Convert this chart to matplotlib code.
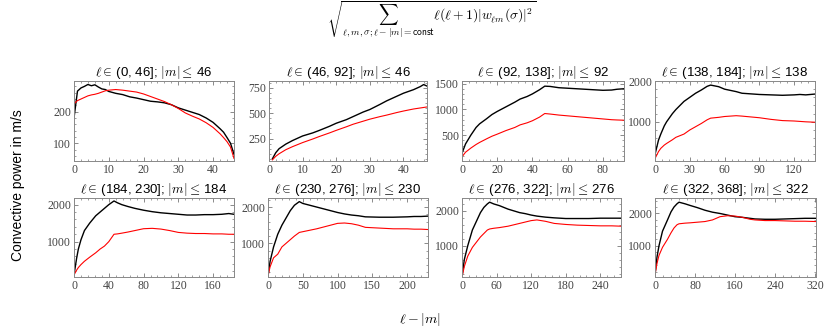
import matplotlib
matplotlib.use("Agg")
import matplotlib.pyplot as plt
from matplotlib.ticker import AutoMinorLocator

plt.rcParams['font.family'] = ['Liberation Sans', 'DejaVu Sans']
plt.rcParams['mathtext.fontset'] = 'cm'

# ---------------- DATA ---------------- #

titles = [r"$\ell \in\,$(0, 46]; $|m| \leq\,$46",
          r"$\ell \in\,$(46, 92]; $|m| \leq\,$46",
          r"$\ell \in\,$(92, 138]; $|m| \leq\,$92",
          r"$\ell \in\,$(138, 184]; $|m| \leq\,$138",
          r"$\ell \in\,$(184, 230]; $|m| \leq\,$184",
          r"$\ell \in\,$(230, 276]; $|m| \leq\,$230",
          r"$\ell \in\,$(276, 322]; $|m| \leq\,$276",
          r"$\ell \in\,$(322, 368]; $|m| \leq\,$322"]

# panel 1
x1 = [0, 1, 2, 3, 4, 5, 6, 7, 8, 9, 10, 12, 14, 16, 18, 20, 22, 24, 26, 28, 30,
      32, 34, 36, 38, 40, 42, 43, 44, 45, 46]
b1 = [180, 265, 275, 280, 286, 282, 285, 278, 272, 270, 264, 258, 254, 247, 243,
      238, 233, 231, 228, 222, 212, 205, 198, 191, 180, 166, 146, 135, 118, 100, 65]
r1 = [225, 235, 240, 245, 250, 253, 255, 258, 262, 266, 268, 270, 268, 265, 262,
      256, 248, 240, 232, 222, 210, 196, 186, 177, 165, 150, 130, 118, 105, 88, 52]

# panel 2
x2 = [1, 2, 3, 5, 7, 10, 13, 15, 18, 20, 23, 25, 28, 30, 33, 35, 38, 40, 43, 45, 46, 47]
b2 = [50, 110, 150, 195, 230, 275, 305, 330, 370, 400, 435, 465, 510, 535, 585, 620,
      665, 695, 730, 760, 780, 765]
r2 = [40, 75, 100, 140, 170, 210, 245, 270, 305, 330, 365, 390, 420, 440, 465, 480,
      505, 520, 540, 550, 555, 560]

# panel 3
x3 = [0, 2, 5, 8, 10, 14, 17, 20, 25, 30, 33, 37, 40, 44, 47, 50, 55, 60, 65, 70,
      75, 80, 85, 88, 92]
b3 = [150, 330, 500, 650, 720, 820, 900, 960, 1050, 1140, 1200, 1250, 1300, 1380,
      1450, 1445, 1420, 1410, 1400, 1390, 1380, 1370, 1375, 1390, 1400]
r3 = [80, 170, 250, 320, 360, 430, 480, 520, 590, 650, 700, 740, 780, 850, 920, 910,
      890, 875, 860, 845, 830, 815, 800, 795, 790]

# panel 4
x4 = [0, 3, 5, 8, 10, 15, 18, 25, 30, 35, 40, 45, 48, 55, 60, 70, 75, 90, 100, 110,
      120, 125, 130, 138]
b4 = [200, 550, 700, 900, 1000, 1200, 1300, 1500, 1600, 1700, 1780, 1870, 1900, 1860,
      1800, 1740, 1700, 1670, 1660, 1650, 1660, 1670, 1660, 1680]
r4 = [100, 270, 350, 430, 470, 560, 620, 700, 800, 880, 960, 1050, 1090, 1110, 1130,
      1150, 1140, 1100, 1060, 1030, 1020, 1010, 1000, 990]

# panel 5
x5 = [0, 3, 5, 8, 12, 18, 25, 30, 35, 40, 46, 50, 55, 62, 70, 80, 90, 100, 110, 120,
      130, 140, 150, 160, 170, 178, 184]
b5 = [100, 550, 800, 1050, 1300, 1500, 1700, 1800, 1900, 2000, 2100, 2050, 2000,
      1950, 1900, 1850, 1810, 1780, 1760, 1740, 1720, 1720, 1730, 1730, 1740, 1760, 1740]
r5 = [100, 230, 300, 380, 470, 580, 700, 800, 880, 1000, 1200, 1210, 1230, 1260,
      1300, 1350, 1360, 1340, 1300, 1250, 1230, 1220, 1220, 1210, 1210, 1200, 1200]

# panel 6
x6 = [0, 3, 8, 14, 20, 26, 32, 38, 45, 50, 60, 70, 80, 90, 100, 110, 120, 130, 140,
      160, 180, 200, 210, 220, 230]
b6 = [100, 500, 900, 1250, 1500, 1700, 1900, 2050, 2150, 2100, 2050, 2000, 1950,
      1900, 1850, 1810, 1780, 1760, 1730, 1720, 1720, 1730, 1740, 1740, 1750]
r6 = [100, 350, 600, 700, 900, 1000, 1100, 1200, 1300, 1320, 1360, 1400, 1450,
      1500, 1550, 1560, 1540, 1500, 1440, 1420, 1400, 1400, 1390, 1390, 1380]

# panel 7
x7 = [0, 4, 10, 18, 25, 32, 38, 44, 48, 55, 65, 80, 90, 100, 110, 120, 130, 145,
      160, 180, 200, 220, 240, 260, 276]
b7 = [100, 600, 1000, 1450, 1700, 1950, 2100, 2200, 2250, 2200, 2150, 2050, 2000,
      1950, 1920, 1880, 1850, 1820, 1800, 1780, 1780, 1780, 1790, 1790, 1790]
r7 = [100, 400, 700, 950, 1100, 1250, 1350, 1450, 1480, 1500, 1520, 1560, 1600,
      1640, 1680, 1720, 1740, 1700, 1640, 1610, 1590, 1580, 1570, 1570, 1560]

# panel 8
x8 = [0, 4, 8, 15, 25, 32, 38, 44, 48, 60, 70, 85, 100, 115, 130, 145, 160, 175,
      190, 200, 220, 240, 260, 280, 300, 322]
b8 = [100, 650, 1000, 1450, 1800, 2050, 2200, 2300, 2350, 2300, 2250, 2180, 2100,
      2040, 2000, 1950, 1900, 1880, 1850, 1830, 1820, 1820, 1830, 1840, 1850, 1850]
r8 = [100, 450, 700, 950, 1200, 1400, 1550, 1650, 1680, 1700, 1710, 1730, 1750,
      1800, 1900, 1930, 1920, 1880, 1820, 1800, 1780, 1780, 1770, 1760, 1760, 1750]

xs = [x1, x2, x3, x4, x5, x6, x7, x8]
blacks = [b1, b2, b3, b4, b5, b6, b7, b8]
reds = [r1, r2, r3, r4, r5, r6, r7, r8]

xlims = [(0, 46), (0, 47), (0, 92), (0, 138), (0, 184), (0, 230), (0, 276), (0, 322)]
ylims = [(44, 297), (29, 815), (0, 1550), (40, 2000),
         (45, 2180), (70, 2250), (100, 2370), (30, 2480)]
xticks = [[0, 10, 20, 30, 40], [0, 10, 20, 30, 40], [0, 20, 40, 60, 80],
          [0, 30, 60, 90, 120], [0, 40, 80, 120, 160], [0, 50, 100, 150, 200],
          [0, 60, 120, 180, 240], [0, 80, 160, 240, 320]]
yticks = [[100, 200], [250, 500, 750], [500, 1000, 1500], [1000, 2000],
          [1000, 2000], [1000, 2000], [1000, 2000], [1000, 2000]]

# ---------------- LAYOUT (pixels) ---------------- #
W, H = 830, 332
cols = [(74, 234), (269, 427), (462, 624), (655, 815),
        (74, 234), (268, 428), (462, 621), (655, 816)]
rows = [(81, 161), (81, 161), (81, 161), (81, 161),
        (198, 277), (198, 277), (198, 277), (198, 277)]

fig = plt.figure(figsize=(W / 100, H / 100), dpi=100)

for i in range(8):
    x0, x1p = cols[i]
    top, bot = rows[i]
    ax = fig.add_axes([x0 / W, 1 - bot / H, (x1p - x0) / W, (bot - top) / H])
    ax.plot(xs[i], blacks[i], color='black', lw=1.0)
    ax.plot(xs[i], reds[i], color='red', lw=0.8)
    ax.set_xlim(*xlims[i])
    ax.set_ylim(*ylims[i])
    ax.set_xticks(xticks[i])
    ax.set_yticks(yticks[i])
    ax.xaxis.set_minor_locator(AutoMinorLocator(5))
    ax.yaxis.set_minor_locator(AutoMinorLocator(5))
    ax.tick_params(which='both', direction='in', top=True, right=True,
                   color='#777777', labelcolor='#444444', labelsize=8.5, pad=2)
    ax.tick_params(which='major', length=3, width=0.6)
    ax.tick_params(which='minor', length=1.5, width=0.5)
    for lab in ax.get_xticklabels() + ax.get_yticklabels():
        lab.set_family('Liberation Serif')
    for s in ax.spines.values():
        s.set_color('#888888')
        s.set_linewidth(0.7)
    ax.set_title(titles[i], fontsize=9.5, pad=2)

fig.text(432 / W, 1 - 20 / H,
         r"$\sqrt{\sum_{\ell,m,\sigma;\ell-|m|=\mathsf{const}} \ell(\ell+1)|w_{\ell m}(\sigma)|^2}$",
         ha='center', va='center', fontsize=9.8)
fig.text(18 / W, 1 - 185 / H, "Convective power in m/s", rotation=90,
         ha='center', va='center', fontsize=10)
fig.text(420 / W, 1 - 320 / H, r"$\ell - |m|$", ha='center', va='center', fontsize=10)

fig.savefig("out.png", dpi=100)
